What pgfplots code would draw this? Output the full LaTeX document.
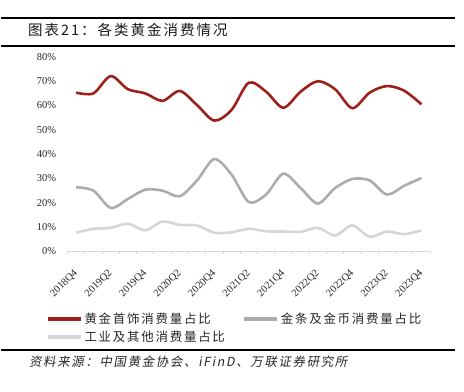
\documentclass[border=0pt]{standalone}
\usepackage{pgfplots}
\pgfplotsset{compat=1.18}
\usepackage{pgfplotstable}
\usepackage{fontspec}
\setmainfont{Liberation Serif}
\newfontfamily\cjk{Noto Sans CJK SC}
\newfontfamily\cjkit[FakeSlant=0.18]{Noto Sans CJK SC}
\definecolor{cRed}{RGB}{158,32,27}
\definecolor{cGray}{RGB}{172,172,172}
\definecolor{cLight}{RGB}{214,214,214}
\definecolor{cAxis}{RGB}{217,217,217}

\pgfplotstableread{
i jew bar ind
0 65.3 26.4 7.7
1 65.0 25.0 9.3
2 72.1 17.9 9.7
3 66.7 21.6 11.4
4 65.0 25.4 8.7
5 61.9 25.0 12.3
6 66.0 22.7 10.9
7 60.2 29.2 10.7
8 53.8 38.0 7.7
9 58.2 31.6 7.9
10 69.4 20.3 9.3
11 65.7 23.4 8.3
12 59.1 32.0 8.2
13 65.7 26.1 8.1
14 70.0 19.7 9.7
15 66.7 26.1 6.6
16 58.9 29.8 10.7
17 65.3 29.2 6.0
18 68.0 23.4 8.2
19 66.1 27.0 7.1
20 60.5 30.2 8.7
}\data

\begin{document}
\begin{tikzpicture}
\path (0bp,0bp) rectangle (464bp,392bp);
\draw[line width=2bp] (0bp,374bp) -- (455bp,374bp);
\node[anchor=west, inner sep=0pt, font=\cjk\addfontfeature{LetterSpace=14}\fontsize{14.5bp}{17bp}\selectfont, text=black!90] at (27bp,362bp) {图表21：各类黄金消费情况};
\draw[line width=2bp] (0bp,346bp) -- (455bp,346bp);
\draw[line width=2bp] (0bp,41bp) -- (455bp,41bp);
\node[anchor=west, inner sep=0pt, font=\cjkit\addfontfeature{LetterSpace=13}\fontsize{12.5bp}{15bp}\selectfont, text=black!85] at (28bp,29bp) {资料来源：中国黄金协会、iFinD、万联证券研究所};
\begin{axis}[
  at={(66.7bp,140bp)}, anchor=south west,
  width=363.3bp, height=195bp, scale only axis,
  xmin=-0.5, xmax=20.5, ymin=0, ymax=80,
  axis x line*=bottom, axis y line*=left,
  x axis line style={draw=cAxis, line width=1bp, -},
  y axis line style={draw=none},
  xtick={0,2,...,20},
  xticklabels={2018Q4,2019Q2,2019Q4,2020Q2,2020Q4,2021Q2,2021Q4,2022Q2,2022Q4,2023Q2,2023Q4},
  minor xtick={-0.5,0.5,...,20.5},
  major tick length=0pt,
  minor tick length=3bp,
  xtick style={draw=cAxis, line width=0.8bp},
  minor tick style={draw=cAxis, line width=0.8bp},
  tick align=outside,
  ytick={0,10,...,80},
  ytick style={draw=none},
  yticklabel={\pgfmathprintnumber{\tick}\%},
  /pgf/number format/assume math mode=true,
  tick label style={font=\fontsize{10.5bp}{12bp}\selectfont, text=black!85},
  yticklabel style={anchor=east, xshift=-8bp},
  xticklabel style={rotate=45, anchor=east, inner sep=0pt},
  xticklabel shift=20bp,
  clip=false,
  legend columns=2,
  legend style={at={(rel axis cs:-0.0597,-0.31)}, anchor=north west, draw=none, fill=none,
    inner sep=0pt, font=\cjk\addfontfeature{LetterSpace=14}\fontsize{12.5bp}{15bp}\selectfont, text=black!85,
    /tikz/every even column/.append style={column sep=16bp},
    row sep=4bp, nodes={inner xsep=1.5bp, inner ysep=1bp}},
  legend cell align=left,
  legend image code/.code={\draw[#1, line width=4bp, sharp plot] (0bp,0bp) -- (33bp,0bp);},
]
\addplot[cRed, line width=2.6bp, smooth] table[x=i, y=jew] {\data};
\addlegendentry{黄金首饰消费量占比}
\addplot[cGray, line width=2.6bp, smooth] table[x=i, y=bar] {\data};
\addlegendentry{金条及金币消费量占比}
\addplot[cLight, line width=2.6bp, smooth] table[x=i, y=ind] {\data};
\addlegendentry{工业及其他消费量占比}
\end{axis}
\end{tikzpicture}
\end{document}
